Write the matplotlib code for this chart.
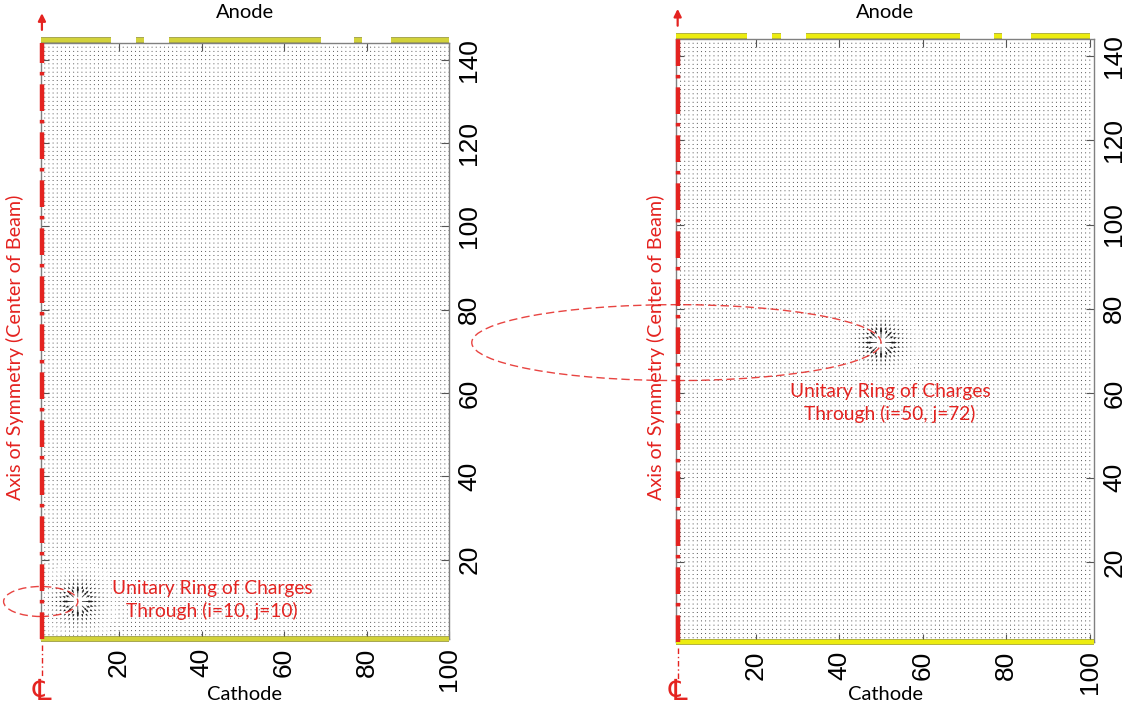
import numpy as np
import matplotlib
matplotlib.use("Agg")
import matplotlib.pyplot as plt
from matplotlib.patches import Ellipse
import matplotlib.patheffects as pe

# Mesh indices (i along the cathode, j along the beam axis)
i_nodes = np.arange(1, 101)
j_nodes = np.arange(1, 145)

# Unit ring charge location for each panel (i, j)
charge_i = [10, 50]
charge_j = [10, 72]
ring_half_height = [3.6, 9.0]   # drawn ellipse half height (mesh units)
panel_labels = ["Unitary Ring of Charges\nThrough (i=10, j=10)",
                "Unitary Ring of Charges\nThrough (i=50, j=72)"]

# Anode electrode segments along the top edge (i ranges)
anode_start = [1, 24, 32, 77, 86]
anode_end = [18, 26, 69, 79, 100]

x_ticks = [20, 40, 60, 80, 100]
y_ticks = [20, 40, 60, 80, 100, 120, 140]

RED = "#e42320"
TEXT_FONT = ["Lato", "DejaVu Sans"]
TICK_FONT = ["Liberation Sans", "DejaVu Sans"]

fig = plt.figure(figsize=(11.36, 7.15), dpi=100)

panels = [
    dict(rect=[40.7 / 1136, 1 - 639 / 715, (449 - 40.7) / 1136, (639 - 43) / 715],
         xlim=(1, 100), yellow="#d2d23a", edge="#8c8c28",
         label_xy=(212, 600), ylab_x=15),
    dict(rect=[676.4 / 1136, 1 - 642 / 715, (1094 - 676.4) / 1136, (642 - 39) / 715],
         xlim=(1, 101), yellow="#ecec10", edge="#9a9a10",
         label_xy=(890, 403), ylab_x=656),
]

X, Y = np.meshgrid(i_nodes, j_nodes)

for k, p in enumerate(panels):
    ax = fig.add_axes(p["rect"])
    ax.set_xlim(*p["xlim"])
    ax.set_ylim(1, 144)

    # field of the ring charge (radial, falling off as 1/r)
    dx = X - charge_i[k]
    dy = Y - charge_j[k]
    r2 = dx ** 2 + dy ** 2
    r2 = np.where(r2 == 0, np.inf, r2)
    U = dx / r2
    V = dy / r2
    ax.quiver(X, Y, U, V, angles="xy", scale_units="xy", scale=0.4,
              pivot="tail", color="#1a1a1a", width=0.0017, minlength=1.5,
              headwidth=3.2, headlength=4.5, headaxislength=4)

    # spines and ticks
    for s in ax.spines.values():
        s.set_color("#808080")
        s.set_linewidth(1.0)
    ax.set_xticks(x_ticks)
    ax.set_yticks(y_ticks)
    ax.tick_params(axis="both", direction="in", length=6, width=0.8,
                   color="#555555", top=True, bottom=True, left=True, right=True,
                   labelleft=False, labelright=True, labelsize=19, pad=6)
    for lab in ax.get_xticklabels():
        lab.set_rotation(90)
        lab.set_family(TICK_FONT)
    for lab in ax.get_yticklabels():
        lab.set_rotation(90)
        lab.set_va("center")
        lab.set_family(TICK_FONT)

    # electrodes
    for a, b in zip(anode_start, anode_end):
        ax.plot([a, b], [144.7, 144.7], color=p["yellow"], lw=3.0,
                solid_capstyle="butt", clip_on=False, zorder=5,
                path_effects=[pe.Stroke(linewidth=4.0, foreground=p["edge"]), pe.Normal()])
    ax.plot([p["xlim"][0], p["xlim"][1]], [1, 1], color=p["yellow"], lw=3.0,
            solid_capstyle="butt", clip_on=False, zorder=5,
            path_effects=[pe.Stroke(linewidth=4.0, foreground=p["edge"]), pe.Normal()])

    # axis of symmetry
    ax.plot([1.3, 1.3], [1, 144], color=RED, lw=3.2, clip_on=False, zorder=6,
            dashes=(6, 2.0, 0.8, 2.0))
    ax.annotate("", xy=(0.003, 1.05), xycoords="axes fraction",
                xytext=(0.003, 1.022), textcoords="axes fraction",
                arrowprops=dict(arrowstyle="-|>", color=RED, lw=1.6,
                                mutation_scale=11, shrinkA=0, shrinkB=0),
                annotation_clip=False)
    ax.plot([0.003, 0.003], [-0.01, -0.065], transform=ax.transAxes, color=RED,
            lw=1.0, dashes=(4, 2, 1, 2), clip_on=False)

    # ring of charges drawn as an ellipse through the charge point
    ell = Ellipse((1, charge_j[k]), width=2 * (charge_i[k] - 1),
                  height=2 * ring_half_height[k], fill=False, edgecolor=RED,
                  lw=1.0, linestyle=(0, (6, 3)), clip_on=False, zorder=7, alpha=0.85)
    ax.add_patch(ell)

    fig.text(p["label_xy"][0] / 1136, 1 - p["label_xy"][1] / 715, panel_labels[k],
             color=RED, fontsize=13.8, family=TEXT_FONT, ha="center", va="center",
             linespacing=1.35)

    fig.text(p["ylab_x"] / 1136, 1 - 347 / 715, "Axis of Symmetry (Center of Beam)",
             color=RED, fontsize=14.2, family=TEXT_FONT, rotation=90,
             ha="center", va="center")

    # centre-line symbol
    cx = (p["rect"][0] * 1136 + 1.5) / 1136
    fig.text(cx, 1 - 692 / 715, "\u2104", color=RED, fontsize=21,
             family=["DejaVu Sans"], ha="center", va="center")

    mid = (p["rect"][0] + p["rect"][2] / 2)
    fig.text(mid, 1 - 12 / 715, "Anode", fontsize=14.5, family=TEXT_FONT,
             ha="center", va="center")
    fig.text(mid, 1 - 694 / 715, "Cathode", fontsize=14.5, family=TEXT_FONT,
             ha="center", va="center")

fig.savefig("out.png", dpi=100)
